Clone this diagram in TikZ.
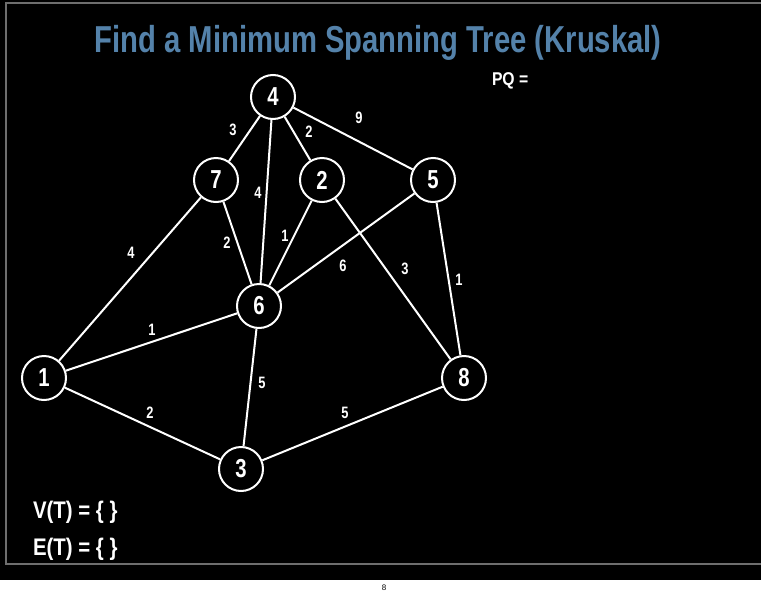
\documentclass[tikz,border=0pt]{standalone}
\usepackage{fontspec}
\usepackage{xcolor}
\usepackage{tikz}
\setmainfont{Liberation Sans}
\newfontfamily\condfont[FakeStretch=0.78]{Liberation Sans}
\newfontfamily\infofont[FakeStretch=0.85]{Liberation Sans}
\definecolor{titleblue}{RGB}{84,130,170}
\definecolor{framegray}{RGB}{110,110,110}
\tikzset{
	vert/.style = {circle, draw=white, fill=black, line width=2pt, minimum size=44pt, inner sep=0pt, text=white, font=\condfont\bfseries\fontsize{26}{26}\selectfont},
	wt/.style = {text=white, inner sep=1pt, font=\condfont\bfseries\fontsize{16.5}{16.5}\selectfont},
	info/.style = {text=white, anchor=west, inner sep=0pt, font=\infofont\bfseries\fontsize{24}{24}\selectfont}
}

\begin{document}
\begin{tikzpicture}
				[x=1pt, y=-1pt, every path/.style = {line width=2pt, white}]
				\useasboundingbox (0,0) rectangle (761,592);
				\fill[black] (0,0) rectangle (761,580);
				\draw[framegray] (775,3) -- (6,3) -- (6,564) -- (775,564);
				\node[titleblue, font=\condfont\bfseries\fontsize{37.5}{37.5}\selectfont] (title) at (378,43) {Find a Minimum Spanning Tree (Kruskal)};
				\node[black, font=\fontsize{8}{8}\selectfont] (page) at (384,588) {8};
				% vertices
				\node[vert] (v4) at (273,97) {4};
				\node[vert] (v7) at (216,180) {7};
				\node[vert] (v2) at (322,180) {2};
				\node[vert] (v5) at (433,180) {5};
				\node[vert] (v6) at (259,306) {6};
				\node[vert] (v1) at (44,378) {1};
				\node[vert] (v8) at (464,378) {8};
				\node[vert] (v3) at (241,469) {3};
				% edges
				\draw (v4)--(v7);
				\draw (v4)--(v2);
				\draw (v4)--(v5);
				\draw (v4)--(v6);
				\draw (v7)--(v6);
				\draw (v7)--(v1);
				\draw (v2)--(v6);
				\draw (v2)--(v8);
				\draw (v5)--(v6);
				\draw (v5)--(v8);
				\draw (v6)--(v1);
				\draw (v6)--(v3);
				\draw (v1)--(v3);
				\draw (v3)--(v8);
				% weights
				\node[wt] (w47) at (233,130) {3};
				\node[wt] (w42) at (309,132) {2};
				\node[wt] (w45) at (359,118) {9};
				\node[wt] (w46) at (258,193) {4};
				\node[wt] (w76) at (227,243) {2};
				\node[wt] (w71) at (131,253) {4};
				\node[wt] (w26) at (285,236) {1};
				\node[wt] (w28) at (405,269) {3};
				\node[wt] (w56) at (343,266) {6};
				\node[wt] (w58) at (459,280) {1};
				\node[wt] (w61) at (152,330) {1};
				\node[wt] (w63) at (262,383) {5};
				\node[wt] (w13) at (150,413) {2};
				\node[wt] (w38) at (345,413) {5};
				% text
				\node[info, font=\infofont\bfseries\fontsize{18.5}{18.5}\selectfont] (pq) at (491,81) {PQ =};
				\node[info] (vt) at (32,512) {V(T) = \{ \}};
				\node[info] (et) at (32,549) {E(T) = \{ \}};
			\end{tikzpicture}
\end{document}
